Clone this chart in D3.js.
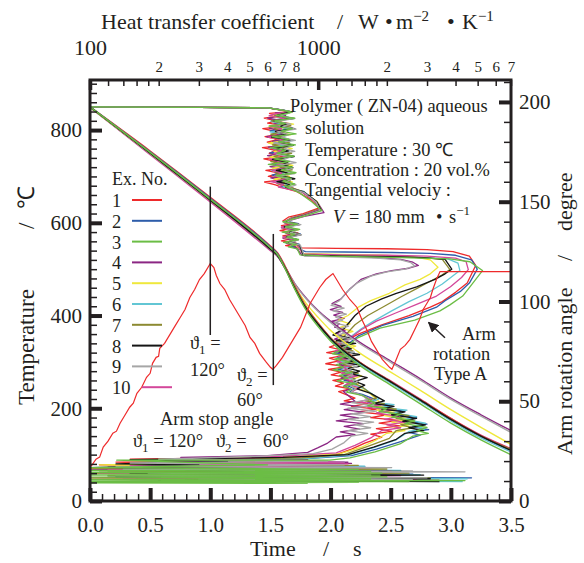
<!DOCTYPE html>
<html>
<head>
<meta charset="utf-8">
<script src="https://cdn.jsdelivr.net/npm/d3@7"></script>
<style>
  body { margin: 0; background: #fff; }
  svg, text { font-family: "Liberation Serif", "Times New Roman", serif; }
  text { fill: #231f20; }
</style>
</head>
<body>
<div id="chart"></div>
<script>
// ---------- data ----------
const expNames = ['1', '2', '3', '4', '5', '6', '7', '8', '9', '10'];
const expColors = ['#ee2a2b', '#2e5daa', '#6bbd45', '#8b2683', '#efe83c', '#62c6d4', '#8c8a31', '#151515', '#a6a6a6', '#d3479a'];

// temperature (deg C) vs time (s)
const tempTime = [0, 0.5, 1.0, 1.5, 1.56, 1.62, 1.7, 1.8, 1.9, 2.0, 2.1, 2.25, 2.5, 2.75, 3.0, 3.25, 3.5];
const tempEx1 = [850, 755, 655, 550, 535, 508, 465, 418, 383, 352, 328, 298, 258, 218, 178, 141, 112];
const tempEx2 = [850, 753, 653, 548, 533, 505, 462, 415, 380, 350, 326, 296, 256, 216, 175, 139, 110];
const tempEx3 = [850, 752, 651, 546, 531, 502, 458, 410, 375, 345, 321, 291, 250, 209, 168, 132, 100];
const tempEx4 = [849, 749, 648, 542, 528, 505, 470, 437, 410, 388, 368, 341, 302, 263, 222, 186, 152];
const tempEx5 = [849, 750, 649, 544, 530, 504, 464, 425, 395, 368, 346, 318, 278, 238, 197, 159, 122];
const tempEx6 = [850, 751, 650, 545, 530, 503, 460, 413, 378, 348, 324, 294, 254, 214, 173, 136, 106];
const tempEx7 = [850, 751, 650, 545, 531, 505, 462, 416, 381, 351, 327, 297, 257, 217, 176, 140, 111];
const tempEx8 = [850, 750, 649, 543, 529, 503, 460, 414, 380, 350, 326, 297, 257, 217, 176, 140, 109];
const tempEx9 = [849, 749, 648, 542, 528, 505, 469, 435, 408, 385, 365, 338, 299, 260, 219, 183, 148];
const tempEx10 = [849, 747, 645, 540, 527, 502, 460, 415, 381, 351, 327, 298, 259, 219, 178, 142, 113];

// heat transfer coefficient (W m-2 K-1) vs temperature (deg C): [h, T]
const htcEx1 = [[100,850],[303,849],[603,848],[680,844],[752,840],
  [612,836],[690,831],[580,826],[655,820],[600,815],[730,809],[572,803],[640,798],[700,792],[585,786],[668,780],[598,774],[735,768],[570,762],[650,756],[610,750],[705,744],[578,738],[660,732],[625,726],[720,719],[590,713],[675,707],[605,700],[740,694],[582,688],[650,682],[700,676],
  [800,668],[930,650],[1010,632],[860,620],[740,612],
  [700,604],[790,599],[690,594],[760,589],[680,583],[815,578],[700,572],[770,566],[690,561],[800,556],[720,551],
  [850,546],[1200,545],[2000,544],[3000,542],[3900,538],[4600,528],[4900,508],
  [4500,470],[4000,450],[3500,430],[3100,418],[2500,400],[1900,380],[1500,360],[1250,340],
  [1120,332],[1260,326],[1090,320],[1300,314],[1120,308],[1230,302],[1080,296],[1320,290],[1110,284],[1260,278],[1140,272],[1360,266],[1160,260],[1290,254],[1190,248],[1380,242],[1230,236],
  [1450,222],[1300,216],[1650,210],[1400,204],[1800,198],[1500,192],[2000,186],[1700,180],[2250,174],[1850,168],[2280,162],[1800,156],[2100,150],[1700,144],[1900,138],
  [1600,125],[1400,112],[1200,100],
  [900,95],[150,90],[600,86],[130,84],[230,80],[110,78],[1200,74],[100,70],[1600,65],[100,60],[2000,55],[100,50],[2400,46],[120,42]];
const htcEx2 = [[100,850],[303,849],[603,848],[700,843],[760,839],
  [700,837],[640,832],[745,827],[625,821],[690,816],[660,810],[770,804],[618,798],[705,793],[650,787],[735,781],[630,775],[760,769],[645,763],[690,757],[615,751],[750,745],[670,739],[720,733],[635,727],[765,721],[655,715],[700,709],[628,703],[740,697],[675,691],[760,685],[690,679],
  [860,668],[960,648],[1020,630],[880,618],[760,610],
  [730,603],[820,598],[710,592],[790,587],[740,581],[835,576],[715,570],[800,565],[745,559],[825,554],[760,549],
  [880,538],[1300,537],[2100,536],[3100,534],[4000,530],[4700,520],[4980,500],
  [4600,470],[4200,452],[3600,432],[3300,418],[2600,398],[1900,378],[1500,356],[1300,332],
  [1180,320],[1360,314],[1210,308],[1420,302],[1240,296],[1340,290],[1220,284],[1450,278],[1280,272],[1400,266],[1300,260],[1500,254],[1350,248],[1450,242],[1380,236],[1560,230],
  [1800,218],[1650,212],[2100,206],[1850,200],[2400,194],[2100,188],[2700,180],[2350,174],[3000,166],[2600,160],[3050,154],[2500,148],[2800,142],
  [2300,128],[1800,112],[1400,98],
  [800,90],[300,86],[1200,82],[200,78],[1600,74],[150,70],[2000,66],[130,62],[2600,58],[120,54],[4700,50],[150,46],[4200,44]];
const htcEx3 = [[100,850],[303,849],[603,848],[694,843],[768,839],
  [730,836],[655,831],[790,826],[640,820],[720,814],[610,809],[770,803],[690,797],[800,792],[630,786],[745,780],[670,774],[795,768],[615,762],[720,756],[660,750],[785,744],[640,738],[750,732],[605,726],[770,720],[690,714],[800,708],[650,702],[760,696],[700,690],[790,684],[720,678],[770,672],
  [832,664],[940,645],[1039,626],[875,615],[768,608],
  [700,602],[810,597],[720,591],[830,586],[695,580],[790,575],[730,569],[820,564],[705,558],[800,553],[740,548],[810,544],
  [832,531],[1126,528],[1866,526],[2793,524],[3780,522],[4625,516],[5250,497],
  [4625,462],[4300,442],[3780,423],[3418,410],[2650,390],[1866,373],[1490,352],[1280,326],
  [1150,318],[1330,312],[1180,306],[1380,300],[1200,294],[1290,288],[1160,283],[1400,277],[1240,271],[1350,265],[1210,259],[1460,253],[1290,247],[1400,241],[1330,235],[1560,228],
  [1775,211],[1650,205],[2000,199],[1850,193],[2300,187],[2100,181],[2650,173],[2400,167],[3000,159],[2700,152],[3040,146],[2600,140],
  [2283,123],[1775,106],[1378,93],
  [1126,88],[131,88],[600,78],[100,72],[1500,68],[100,66],[1700,64],[100,62],[1900,60],[100,58],[1866,56],[100,54],[2000,52],[100,50],[1700,48],[100,46],[4400,44],[100,43],[2500,42],[100,41],[1500,40],[100,39],[900,38]];
const htcEx4 = [[100,850],[303,849],[603,848],[690,843],[750,839],
  [650,837],[720,832],[600,826],[690,821],[640,815],[755,810],[610,804],[680,798],[720,792],[595,786],[700,781],[630,775],[745,769],[605,763],[665,757],[720,751],[600,745],[690,739],[640,733],[760,727],[615,721],[705,715],[650,709],[735,703],[620,697],[700,691],[660,685],[740,679],
  [850,666],[1000,642],[1060,622],[870,614],[760,606],
  [710,600],[780,595],[690,589],[805,584],[720,578],[770,573],[700,567],[795,562],[725,556],[785,551],
  [850,530],[1300,528],[1800,525],[2300,521],[2600,515],[2750,508],
  [2500,502],[2100,497],[1800,490],[1540,478],[1380,458],[1260,436],
  [1150,426],[1260,420],[1130,413],[1280,407],[1170,401],[1300,394],[1150,388],[1240,382],[1180,375],[1320,369],[1200,362],[1280,356],[1180,349],[1350,343],[1230,336],[1300,329],[1210,322],[1380,315],[1250,308],[1330,301],[1240,294],[1400,287],[1270,280],[1350,272],[1260,265],[1420,257],[1300,249],[1380,242],[1290,236],
  [1450,215],[1250,209],[1550,203],[1300,197],[1600,191],[1250,185],[1500,179],[1200,173],[1580,167],[1300,161],[1520,155],[1250,149],[1450,143],[1200,138],
  [1100,125],[1000,115],[900,105],
  [600,98],[250,94],[900,90],[200,86],[1350,84],[180,82],[1400,81],[300,79],[1000,76],[120,73],[600,70],[100,67]];
const htcEx5 = [[100,850],[303,849],[603,848],[700,842],[770,838],
  [680,835],[620,830],[740,824],[650,819],[780,813],[610,808],[700,802],[660,796],[760,790],[625,784],[720,778],[605,772],[690,766],[770,760],[640,754],[735,748],[615,742],[705,736],[660,730],[775,724],[630,718],[720,712],[670,706],[750,700],[640,694],[770,688],[700,682],
  [860,666],[990,646],[1030,628],[880,616],[770,608],
  [715,601],[800,596],[700,590],[820,585],[735,579],[780,574],[710,568],[815,563],[740,557],[800,552],
  [860,534],[1250,532],[1900,530],[2600,527],[3100,520],[3350,504],
  [3100,490],[2800,478],[2400,466],[2050,448],[1700,432],[1500,418],[1350,400],
  [1230,390],[1380,382],[1240,374],[1420,366],[1270,358],[1350,350],[1250,342],[1460,334],[1300,326],[1400,318],[1290,310],[1500,302],[1340,294],[1430,286],[1360,278],[1550,270],[1400,262],[1500,254],[1420,246],[1650,236],
  [1850,214],[1650,208],[2000,202],[1800,196],[2250,190],[1950,184],[2450,176],[2100,170],[2500,164],[2150,158],[2400,152],[2000,146],
  [1800,132],[1550,116],[1250,102],
  [700,94],[200,90],[800,86],[110,78],[520,74],[100,71],[310,71],[1900,67],[120,64],[2300,58],[150,54],[3000,49]];
const htcEx6 = [[100,850],[303,849],[603,848],[705,843],[765,839],
  [720,836],[660,830],[770,825],[620,819],[700,813],[680,808],[750,802],[615,796],[725,790],[665,784],[780,778],[640,772],[705,767],[620,761],[745,755],[690,749],[775,743],[635,737],[720,731],[660,725],[760,719],[625,713],[705,707],[680,701],[770,695],[650,689],[735,683],[700,677],
  [865,667],[975,647],[1025,629],[885,617],[765,609],
  [720,602],[815,597],[705,591],[790,586],[745,580],[830,575],[720,569],[805,564],[735,558],[820,553],
  [870,530],[1250,528],[1950,527],[2900,525],[3700,522],[4100,513],[4180,497],
  [3900,486],[3500,468],[3000,448],[2500,430],[2100,410],[1750,388],[1550,372],[1350,350],
  [1200,338],[1380,332],[1230,326],[1440,320],[1260,314],[1360,308],[1240,302],[1480,296],[1300,290],[1420,284],[1320,278],[1510,272],[1360,266],[1460,260],[1380,254],[1600,242],
  [1850,220],[1700,214],[2150,208],[1900,202],[2450,196],[2150,190],[2700,182],[2400,176],[2950,168],[2600,162],[2950,156],[2500,150],
  [2200,132],[1750,115],[1350,99],
  [900,92],[250,88],[1300,84],[180,80],[1600,75],[140,71],[2300,66],[120,62],[2800,57],[130,52],[4500,48],[200,45],[4300,42]];
const htcEx7 = [[100,850],[303,849],[603,848],[695,843],[755,839],
  [700,837],[645,831],[735,826],[625,820],[690,815],[760,809],[640,803],[715,797],[620,791],[700,785],[670,780],[750,774],[630,768],[725,762],[660,756],[765,750],[640,744],[700,738],[620,732],[745,726],[680,720],[770,714],[650,708],[720,702],[690,696],[755,690],[665,684],[740,678],
  [850,668],[965,648],[1010,630],[870,618],[760,610],
  [715,603],[805,598],[700,592],[780,587],[740,581],[825,576],[712,570],[795,565],[738,559],[810,554],
  [860,531],[1280,529],[2000,527],[2900,525],[3500,521],[3780,499],
  [3500,488],[3100,474],[2700,458],[2300,440],[1950,420],[1650,400],[1450,380],[1300,355],
  [1180,342],[1360,336],[1210,330],[1420,324],[1250,318],[1350,312],[1230,306],[1470,300],[1290,294],[1410,288],[1310,282],[1500,276],[1340,270],[1450,264],[1370,258],[1560,246],
  [1800,222],[1600,216],[1950,210],[1750,204],[2200,198],[1950,192],[2500,184],[2200,178],[2650,170],[2300,164],[2600,158],[2200,152],
  [2050,135],[1650,118],[1300,100],
  [850,93],[220,89],[1100,85],[170,81],[1500,77],[130,73],[2000,69],[110,65],[2500,60],[120,55],[3100,50],[160,47],[3400,45]];
const htcEx8 = [[100,850],[303,849],[603,848],[700,843],[765,839],
  [710,836],[660,831],[780,825],[640,820],[730,814],[685,808],[790,803],[650,797],[720,791],[625,785],[760,779],[690,773],[780,767],[640,761],[745,755],[670,749],[785,743],[630,737],[735,731],[700,725],[775,719],[655,713],[740,707],[690,701],[790,695],[660,689],[750,683],[720,677],
  [870,666],[985,646],[1030,628],[890,617],[775,609],
  [725,602],[830,596],[710,591],[800,585],[750,580],[840,574],[725,569],[815,563],[745,558],[830,552],
  [860,530],[1300,528],[2000,527],[2900,525],[3600,521],[3850,500],
  [3600,490],[3250,478],[2700,462],[2200,448],[1900,436],[1620,420],[1450,400],[1300,372],
  [1160,358],[1380,352],[1200,346],[1460,340],[1240,334],[1400,328],[1220,322],[1520,316],[1280,310],[1460,304],[1320,298],[1580,292],[1360,286],[1520,280],[1400,274],[1640,266],[1450,258],[1600,250],[1480,242],[1700,232],
  [1950,216],[1750,210],[2150,204],[1900,198],[2400,192],[2100,186],[2700,178],[2350,172],[2950,164],[2500,158],[2900,152],[2400,146],
  [2200,133],[1750,116],[1350,100],
  [700,94],[150,89],[400,86],[130,80],[300,78],[100,72],[580,70],[200,66],[2600,64],[150,60],[2900,56],[130,52],[3100,48],[200,44],[3400,42]];
const htcEx9 = [[100,850],[303,849],[603,848],[705,843],[770,839],
  [740,836],[680,830],[790,825],[650,819],[760,813],[700,808],[800,802],[660,796],[745,790],[690,784],[795,778],[640,772],[770,766],[710,760],[790,754],[655,748],[760,742],[700,736],[800,730],[670,724],[775,718],[715,712],[790,706],[660,700],[765,694],[720,688],[800,682],[740,676],
  [870,665],[980,645],[1020,627],[880,616],[770,608],
  [730,601],[840,596],[720,590],[815,585],[755,579],[845,574],[730,568],[820,563],[750,557],[835,552],
  [870,528],[1300,526],[1800,524],[2300,520],[2550,514],[2650,507],
  [2400,500],[2000,494],[1700,485],[1480,470],[1330,450],[1240,432],
  [1140,422],[1300,416],[1160,410],[1330,403],[1190,397],[1280,390],[1170,384],[1360,377],[1220,370],[1310,363],[1200,356],[1400,349],[1260,342],[1350,335],[1230,328],[1440,321],[1300,313],[1390,306],[1280,298],[1480,290],[1340,282],[1420,274],[1320,266],[1500,258],[1380,250],[1460,242],[1400,236],[1560,228],
  [1650,218],[1400,212],[1750,206],[1350,200],[1800,194],[1400,188],[1700,182],[1350,176],[1750,170],[1450,164],[1700,158],[1350,152],[1650,146],[1400,140],
  [1300,126],[1150,112],[950,102],
  [500,96],[200,90],[1100,86],[150,82],[1300,78],[130,74],[2100,72],[140,68],[4400,63],[180,60],[1700,56],[130,54],[3000,50],[300,47],[2600,46]];
const htcEx10 = [[100,850],[303,849],[603,848],[690,843],[755,839],
  [660,836],[610,831],[720,825],[640,820],[745,814],[620,808],[690,803],[650,797],[730,791],[605,785],[700,779],[665,773],[755,767],[625,761],[690,755],[640,749],[740,743],[615,737],[710,731],[660,725],[750,719],[630,713],[695,707],[645,701],[760,695],[620,689],[705,683],[670,677],
  [845,667],[970,647],[1015,629],[870,617],[760,609],
  [705,602],[800,597],[690,591],[775,586],[720,580],[810,575],[700,569],[790,564],[725,558],[805,553],
  [860,533],[1280,531],[2000,530],[3000,528],[4000,524],[4450,516],[4550,499],
  [4250,482],[3800,462],[3300,442],[2700,424],[2200,406],[1800,388],[1550,370],[1350,348],
  [1200,336],[1360,330],[1190,324],[1400,318],[1230,312],[1330,306],[1210,300],[1440,294],[1280,288],[1380,282],[1260,276],[1490,270],[1310,264],[1420,258],[1330,252],[1520,244],[1400,236],
  [1700,220],[1500,214],[1900,208],[1650,202],[2100,196],[1800,190],[2250,182],[1950,176],[2400,170],[2000,164],[2300,158],[1900,152],
  [1700,136],[1450,120],[1200,104],
  [650,96],[350,88],[1300,84],[260,81],[1350,80],[150,76],[1700,72],[120,68],[2100,64],[110,60],[2300,55],[140,50],[2700,46]];

// arm rotation angle (degree) vs time (s), Type A
const armTime = [0.01, 0.05, 0.08, 0.11, 0.15, 0.19, 0.22, 0.25, 0.29, 0.33, 0.36, 0.39, 0.43, 0.47, 0.5, 0.52, 0.55, 0.57, 0.58, 0.62, 0.67, 0.71, 0.75, 0.79, 0.83, 0.87, 0.91, 0.95, 1.0,
  1.03, 1.05, 1.08, 1.12, 1.16, 1.2, 1.25, 1.29, 1.33, 1.37, 1.41, 1.46, 1.5, 1.52,
  1.55, 1.6, 1.64, 1.69, 1.75, 1.79, 1.83, 1.87, 1.91, 1.96, 2.0, 2.02,
  2.06, 2.1, 2.16, 2.22, 2.26, 2.3, 2.34, 2.38, 2.43, 2.49, 2.51,
  2.54, 2.58, 2.62, 2.66, 2.7, 2.74, 2.77, 2.8, 2.83, 2.85, 2.88, 2.91, 3.5];
const armAngle = [17.5, 21, 22, 27, 30, 34, 35, 39, 43, 47, 49, 54, 57, 62, 64, 69, 72, 72.5, 76.5, 79, 84, 88, 92, 96, 102, 106, 111, 114, 119,
  117, 113, 109, 106, 101, 97, 92, 88, 82, 79, 74, 70, 67, 66,
  68, 72, 76, 81, 87, 93, 99, 103, 107, 111, 113, 114,
  110, 106, 101, 97, 91, 86, 80, 76, 71, 67, 66,
  70, 76, 78, 81, 86, 91, 96, 99, 102, 106, 111, 115, 115];

// arm stop markers: time, temperature top, temperature bottom
const stopTimes = [1.0, 1.524];
const stopTop = [678, 576];
const stopBottom = [358, 250];

// axis ticks
const timeMajor = [0, 0.5, 1.0, 1.5, 2.0, 2.5, 3.0, 3.5];
const timeMinor = d3.range(0, 3.55, 0.1);
const tempMajor = [0, 200, 400, 600, 800];
const tempMinor = d3.range(0, 901, 20);
const angleMajor = [0, 50, 100, 150, 200];
const angleMinor = d3.range(0, 211, 10);
const htcMinor = [120, 140, 160, 180, 200, 300, 400, 500, 600, 700, 800, 900,
  1200, 1400, 1600, 1800, 2000, 3000, 4000, 5000, 6000, 7000];
const htcDigitLabels = [200, 300, 400, 500, 600, 700, 800, 2000, 3000, 4000, 5000, 6000, 7000];
const htcDecades = [100, 1000];

// ---------- chart ----------
const W = 584, H = 563;
const plot = { left: 90, right: 511, top: 80, bottom: 501 };
const ink = '#231f20';
const serif = '"Liberation Serif", "Times New Roman", serif';

const svg = d3.select('#chart').append('svg')
  .attr('width', W).attr('height', H)
  .attr('font-family', serif);

const x = d3.scaleLinear().domain([0, 3.5]).range([plot.left, plot.right]);
const yT = d3.scaleLinear().domain([0, 908]).range([plot.bottom, plot.top]);
const yA = d3.scaleLinear().domain([0, 211]).range([plot.bottom, plot.top]);
const xH = d3.scaleLog().domain([100, 7000]).range([plot.left, plot.right]);

svg.append('clipPath').attr('id', 'clip').append('rect')
  .attr('x', plot.left).attr('y', plot.top)
  .attr('width', plot.right - plot.left).attr('height', plot.bottom - plot.top);

const body = svg.append('g').attr('clip-path', 'url(#clip)');

// heat transfer coefficient curves (green last, it sits on top in the original)
const htcAll = [htcEx1, htcEx2, htcEx3, htcEx4, htcEx5, htcEx6, htcEx7, htcEx8, htcEx9, htcEx10];
const htcLine = d3.line().x(d => xH(d[0])).y(d => yT(d[1]));
[0, 1, 3, 4, 5, 6, 9, 7, 8, 2].forEach(i => {
  body.append('path')
    .datum(htcAll[i])
    .attr('d', htcLine)
    .style('fill', 'none')
    .style('stroke', expColors[i])
    .style('stroke-width', 1.3)
    .style('stroke-linejoin', 'round');
});

// cooling curves
const tempAll = [tempEx1, tempEx2, tempEx3, tempEx4, tempEx5, tempEx6, tempEx7, tempEx8, tempEx9, tempEx10];
const tempLine = d3.line().x((d, i) => x(tempTime[i])).y(d => yT(d)).curve(d3.curveMonotoneX);
[9, 3, 8, 4, 0, 1, 5, 6, 7, 2].forEach(i => {
  body.append('path')
    .datum(tempAll[i])
    .attr('d', tempLine)
    .style('fill', 'none')
    .style('stroke', expColors[i])
    .style('stroke-width', 1.4);
});

// arm rotation angle
const armLine = d3.line().x((d, i) => x(armTime[i])).y(d => yA(d));
body.append('path')
  .datum(armAngle)
  .attr('d', armLine)
  .style('fill', 'none')
  .style('stroke', '#ee2a2b')
  .style('stroke-width', 1.2);

// arm stop markers
stopTimes.forEach((t, i) => {
  body.append('line')
    .attr('x1', x(t)).attr('x2', x(t))
    .attr('y1', yT(stopTop[i])).attr('y2', yT(stopBottom[i]))
    .style('stroke', ink).style('stroke-width', 1.5);
});

// ---------- axes ----------
function styleAxis(g, width) {
  g.attr('font-family', serif);
  g.select('.domain').remove();
  g.selectAll('.tick line').style('stroke', ink).style('stroke-width', width);
  g.selectAll('.tick text').style('fill', ink);
}

// bottom
svg.append('g').attr('transform', `translate(0,${plot.bottom})`)
  .call(d3.axisBottom(x).tickValues(timeMinor).tickSize(-7).tickFormat(''))
  .call(g => styleAxis(g, 1.5));
svg.append('g').attr('transform', `translate(0,${plot.bottom})`)
  .call(d3.axisBottom(x).tickValues(timeMajor).tickSize(-13).tickPadding(16).tickFormat(d3.format('.1f')))
  .call(g => styleAxis(g, 4))
  .call(g => g.selectAll('.tick text').style('font-size', '21px'));

// left
svg.append('g').attr('transform', `translate(${plot.left},0)`)
  .call(d3.axisLeft(yT).tickValues(tempMinor).tickSize(-7).tickFormat(''))
  .call(g => styleAxis(g, 1.5));
svg.append('g').attr('transform', `translate(${plot.left},0)`)
  .call(d3.axisLeft(yT).tickValues(tempMajor).tickSize(-12).tickPadding(8))
  .call(g => styleAxis(g, 4))
  .call(g => g.selectAll('.tick text').style('font-size', '21px'));

// right
svg.append('g').attr('transform', `translate(${plot.right},0)`)
  .call(d3.axisRight(yA).tickValues(angleMinor).tickSize(-7).tickFormat(''))
  .call(g => styleAxis(g, 1.5));
svg.append('g').attr('transform', `translate(${plot.right},0)`)
  .call(d3.axisRight(yA).tickValues(angleMajor).tickSize(-12).tickPadding(8))
  .call(g => styleAxis(g, 4))
  .call(g => g.selectAll('.tick text').style('font-size', '21px'));

// top (log)
svg.append('g').attr('transform', `translate(0,${plot.top})`)
  .call(d3.axisTop(xH).tickValues(htcMinor).tickSize(-6).tickPadding(8)
    .tickFormat(d => htcDigitLabels.includes(d) ? String(d / Math.pow(10, Math.floor(Math.log10(d) + 1e-9))) : ''))
  .call(g => styleAxis(g, 1.5))
  .call(g => g.selectAll('.tick text').style('font-size', '15px'));
svg.append('g').attr('transform', `translate(0,${plot.top})`)
  .call(d3.axisTop(xH).tickValues(htcDecades).tickSize(-10).tickPadding(25).tickFormat(d3.format('d')))
  .call(g => styleAxis(g, 3.5))
  .call(g => g.selectAll('.tick text').style('font-size', '22px'));

// frame
svg.append('rect')
  .attr('x', plot.left).attr('y', plot.top)
  .attr('width', plot.right - plot.left).attr('height', plot.bottom - plot.top)
  .style('fill', 'none').style('stroke', ink).style('stroke-width', 3);

// ---------- text ----------
function rich(x0, y0, parts, size, rotate) {
  const t = svg.append('text').attr('x', x0).attr('y', y0).style('font-size', size + 'px');
  if (rotate) t.attr('transform', `rotate(${rotate},${x0},${y0})`);
  let shift = 0;
  parts.forEach(p => {
    const s = t.append('tspan').text(p.t);
    const want = p.sub ? 5 : p.sup ? -8 : 0;
    if (want !== shift) { s.attr('dy', want - shift); shift = want; }
    if (p.sub || p.sup) s.style('font-size', Math.round(size * 0.7) + 'px');
    if (p.x != null) s.attr('x', p.x);
    if (p.it) s.style('font-style', 'italic');
  });
  return t;
}

// axis titles
rich(101, 29, [{ t: 'Heat transfer coefficient' }, { t: '/', x: 337 }, { t: 'W', x: 358 },
  { t: '•', x: 385 }, { t: 'm', x: 396 }, { t: '−2', sup: true }, { t: '•', x: 447 },
  { t: 'K', x: 462 }, { t: '−1', sup: true }], 22);
rich(250, 556, [{ t: 'Time' }, { t: '/', x: 323 }, { t: 's', x: 353 }], 22);
rich(34, 405, [{ t: 'Temperature' }, { t: '/', x: 34 + 176 }, { t: '℃', x: 34 + 196 }], 23, -90);
rich(572, 455, [{ t: 'Arm rotation angle' }, { t: '/', x: 572 + 194 }, { t: 'degree', x: 572 + 224 }], 22, -90);

// legend
rich(112, 185, [{ t: 'Ex. No.' }], 18);
expNames.forEach((name, i) => {
  const yy = 200 + i * 20.8;
  const shiftX = i === 9 ? 10 : 0;
  svg.append('text').attr('x', 112).attr('y', yy + 7).style('font-size', '18.5px').text(name);
  svg.append('line')
    .attr('x1', 132 + shiftX).attr('x2', 162 + shiftX)
    .attr('y1', yy).attr('y2', yy)
    .style('stroke', expColors[i]).style('stroke-width', 2);
});

// conditions box
const fs = 18.4;
rich(290, 112, [{ t: 'Polymer ( ZN-04) aqueous' }], fs);
rich(305, 134, [{ t: 'solution' }], fs);
rich(305, 156, [{ t: 'Temperature : 30 ℃' }], fs);
rich(305, 176, [{ t: 'Concentration : 20 vol.%' }], fs);
rich(305, 196, [{ t: 'Tangential velociy :' }], fs);
rich(333, 223, [{ t: 'V', it: true }, { t: '= 180 mm', x: 349 }, { t: '•', x: 436 }, { t: 's', x: 449 }, { t: '−1', sup: true }], fs);

// arm stop annotations
rich(190, 349, [{ t: 'ϑ' }, { t: '1', sub: true }, { t: ' =' }], fs);
rich(190, 376, [{ t: '120°' }], fs);
rich(237, 381, [{ t: 'ϑ' }, { t: '2', sub: true }, { t: ' =' }], fs);
rich(237, 406, [{ t: '60°' }], fs);
rich(160, 425, [{ t: 'Arm stop angle' }], fs);
rich(133, 447, [{ t: 'ϑ' }, { t: '1', sub: true }, { t: ' = 120°' }, { t: 'ϑ', x: 216 }, { t: '2', sub: true }, { t: ' =' }, { t: '60°', x: 263 }], fs);

// arm rotation label and arrow
rich(462, 340, [{ t: 'Arm' }], fs);
rich(433, 360, [{ t: 'rotation' }], fs);
rich(434, 380, [{ t: 'Type A' }], fs);

svg.append('defs').append('marker')
  .attr('id', 'head').attr('viewBox', '0 0 10 10').attr('refX', 9).attr('refY', 5)
  .attr('markerWidth', 7).attr('markerHeight', 7).attr('orient', 'auto')
  .append('path').attr('d', 'M0,0 L10,5 L0,10 z').style('fill', ink);
svg.append('line')
  .attr('x1', x(2.951)).attr('y1', yT(352))
  .attr('x2', x(2.815)).attr('y2', yT(385))
  .style('stroke', ink).style('stroke-width', 1.5)
  .attr('marker-end', 'url(#head)');
</script>
</body>
</html>
